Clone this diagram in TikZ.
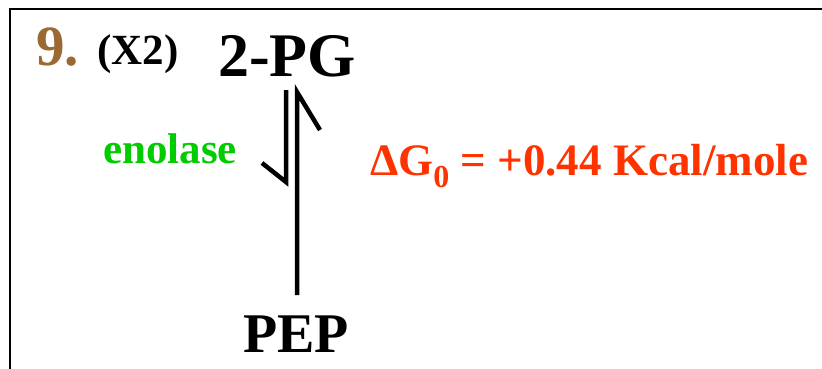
\documentclass[tikz,border=0pt]{standalone}
\usepackage{fontspec}
\setmainfont{Liberation Serif}
\definecolor{numbrown}{RGB}{155,105,50}
\definecolor{enzgreen}{RGB}{0,204,0}
\definecolor{dgred}{RGB}{255,51,0}
\begin{document}
\begin{tikzpicture}[x=1pt,y=-1pt,
  lbl/.style={inner sep=0pt,anchor=base west,font=\bfseries},
  frameline/.style={line width=2.2pt,black},
  harp/.style={line width=4.5pt,black,line cap=butt,line join=miter}]
\useasboundingbox (0,0) rectangle (822,369);
\fill[white] (0,0) rectangle (822,369);
% frame
\draw[frameline] (10,369) -- (10,9) -- (822,9);
% labels
\node[lbl,text=numbrown,font=\bfseries\fontsize{57}{57}\selectfont] (num) at (36,66) {9.};
\node[lbl,font=\bfseries\fontsize{43}{43}\selectfont] (x2) at (97,65) {(X2)};
\node[lbl,font=\bfseries\fontsize{62}{62}\selectfont] (pg) at (218,77) {2-PG};
\node[lbl,font=\bfseries\fontsize{56}{56}\selectfont] (pep) at (243,352) {PEP};
\node[lbl,text=enzgreen,font=\bfseries\fontsize{43}{43}\selectfont] (enz) at (103,163) {enolase};
\node[lbl,text=dgred,font=\bfseries\fontsize{45}{45}\selectfont] (dg) at (370,175) {ΔG\raisebox{-12pt}{\fontsize{32}{32}\selectfont 0} = +0.44 Kcal/mole};
% equilibrium harpoons
\coordinate (lt) at (286,90);
\coordinate (lb) at (286,182);
\coordinate (lbarb) at (262,163);
\coordinate (rt) at (297,92);
\coordinate (rb) at (297,295);
\coordinate (rbarb) at (320,130);
\draw[harp] (lt) -- (lb) -- (lbarb);
\draw[harp] (rb) -- (rt) -- (rbarb);
\end{tikzpicture}
\end{document}
